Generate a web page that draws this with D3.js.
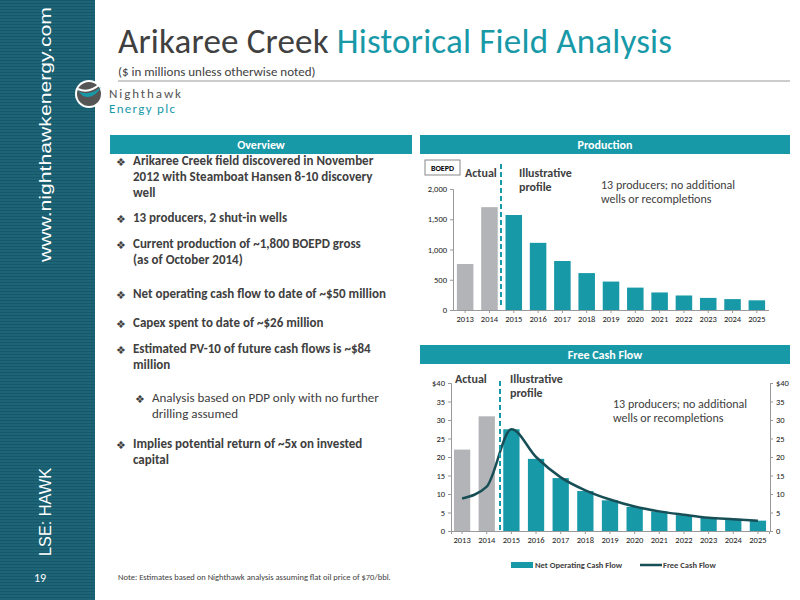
<!DOCTYPE html><html><head><meta charset="utf-8"><script src="https://d3js.org/d3.v7.min.js"></script>
<style>body{margin:0}svg{font-family:Calibri,Carlito,"Open Sans",sans-serif}</style></head><body>
<svg id="s" width="800" height="600"></svg>
<script>
const years=["2013","2014","2015","2016","2017","2018","2019","2020","2021","2022","2023","2024","2025"];
const production=[760,1700,1570,1110,810,610,470,370,290,240,200,180,160];
const nocf=[22,31,27.5,19.5,14.3,10.8,8.3,6.5,5.3,4.3,3.7,3.3,2.8];
const fcf=[8.8,12,27.5,20,14.5,11,8.5,6.6,5.3,4.4,3.6,3.2,2.8];
const prodTicks=[0,500,1000,1500,2000];
const fcfTicks=[0,5,10,15,20,25,30,35,40];
const teal="#1899a8",gray="#b3b4b7",dark="#404040",line="#184f56";
const svg=d3.select("#s");
svg.append("rect").attr("width",800).attr("height",600).attr("fill","#fff");
svg.append("rect").attr("width",95).attr("height",600).attr("fill","#1d6476");
for(let y=0;y<600;y+=3)svg.append("rect").attr("x",0).attr("y",y).attr("width",95).attr("height",1).attr("fill","#135060").attr("opacity",0.6);
svg.append("text").attr("transform","translate(51,262) rotate(-90)").attr("fill","#fff").attr("font-size",17).attr("font-family","Arial").attr("textLength",255).attr("lengthAdjust","spacingAndGlyphs").text("www.nighthawkenergy.com");
svg.append("text").attr("transform","translate(51,556) rotate(-90)").attr("fill","#fff").attr("font-size",17).attr("font-family","Arial").attr("textLength",88).attr("lengthAdjust","spacingAndGlyphs").text("LSE: HAWK");
svg.append("text").attr("x",40).attr("y",582).attr("fill","#fff").attr("font-size",12).attr("text-anchor","middle").text("19");
const t=svg.append("text").attr("x",118).attr("y",53).attr("font-size",35).attr("fill",dark).attr("textLength",554);
t.append("tspan").text("Arikaree Creek ");t.append("tspan").attr("fill",teal).text("Historical Field Analysis");
svg.append("text").attr("x",118).attr("y",76).attr("font-size",13).attr("fill",dark).text("($ in millions unless otherwise noted)");
svg.append("line").attr("x1",118).attr("x2",790).attr("y1",81).attr("y2",81).attr("stroke","#999");
svg.append("circle").attr("cx",89).attr("cy",94).attr("r",14).attr("fill","#fff");
svg.append("circle").attr("cx",89).attr("cy",94).attr("r",12).attr("fill","#555");
svg.append("path").attr("d","M78,91 Q89,97 101,87 Q94,100 83,96Z").attr("fill",teal);
svg.append("path").attr("d","M78,89 Q89,94 100,84").attr("stroke","#fff").attr("stroke-width",2).attr("fill","none");
svg.append("text").attr("x",109).attr("y",98).attr("font-size",13).attr("fill","#555").attr("textLength",72).text("Nighthawk");
svg.append("text").attr("x",109).attr("y",113).attr("font-size",13).attr("fill",teal).attr("textLength",66).text("Energy plc");
[[110,135,302,"Overview"],[420,135,370,"Production"],[420,345,370,"Free Cash Flow"]].forEach(([x,y,w,l])=>{
svg.append("rect").attr("x",x).attr("y",y).attr("width",w).attr("height",19).attr("fill",teal);
svg.append("text").attr("x",x+w/2).attr("y",y+14).attr("text-anchor","middle").attr("fill","#fff").attr("font-weight","bold").attr("font-size",12).text(l);});
const bullets=[[165,["Arikaree Creek field discovered in November","2012 with Steamboat Hansen 8-10 discovery","well"],0],[222,["13 producers, 2 shut-in wells"],0],[248,["Current production of ~1,800 BOEPD gross","(as of October 2014)"],0],[298,["Net operating cash flow to date of ~$50 million"],0],[327,["Capex spent to date of ~$26 million"],0],[353,["Estimated PV-10 of future cash flows is ~$84","million"],0],[402,["Analysis based on PDP only with no further","drilling assumed"],1],[448,["Implies potential return of ~5x on invested","capital"],0]];
bullets.forEach(([y,ls,sub])=>{const x=sub?135:116;
svg.append("text").attr("x",x).attr("y",y+1).attr("font-size",11).attr("fill",dark).text("❖");
ls.forEach((s,i)=>svg.append("text").attr("x",x+17).attr("y",y+i*16).attr("font-size",13).attr("font-weight",sub?"normal":"bold").attr("fill",dark).text(s));});
svg.append("text").attr("x",118).attr("y",580).attr("font-size",8.5).attr("fill",dark).text("Note:  Estimates based on Nighthawk analysis assuming flat oil price of $70/bbl.");
const x1=d3.scaleBand().domain(years).range([453,769]).paddingInner(0.32).paddingOuter(0.16);
const y1=d3.scaleLinear().domain([0,2000]).range([310,189]);
const g1=svg.append("g");
g1.selectAll("rect").data(production).join("rect").attr("x",(d,i)=>x1(years[i])).attr("y",d=>y1(d)).attr("width",x1.bandwidth()).attr("height",d=>310-y1(d)).attr("fill",(d,i)=>i<2?gray:teal);
const ax1=g1.append("g").attr("transform","translate(453,0)").call(d3.axisLeft(y1).tickValues(prodTicks).tickFormat(d3.format(",")).tickSize(3));
const bx1=g1.append("g").attr("transform","translate(0,310)").call(d3.axisBottom(x1).tickSize(3));
[ax1,bx1].forEach(a=>{a.selectAll("path,line").attr("stroke","#999");a.selectAll("text").attr("font-size",8.5).attr("fill","#222").attr("font-family","Calibri,Carlito,sans-serif");});
bx1.select(".domain").attr("d","M453,0.5H769");
svg.append("line").attr("x1",501).attr("x2",501).attr("y1",164).attr("y2",306).attr("stroke",teal).attr("stroke-width",2).attr("stroke-dasharray","5,3");
svg.append("rect").attr("x",425).attr("y",160).attr("width",35).attr("height",15).attr("fill","#fff").attr("stroke","#888");
svg.append("text").attr("x",442.5).attr("y",171).attr("text-anchor","middle").attr("font-size",8).attr("font-weight","bold").text("BOEPD");
function lbl(x,y,ls,o={}){ls.forEach((s,i)=>svg.append("text").attr("x",x).attr("y",y+i*14).attr("font-size",o.fs||12).attr("font-weight",o.b?"bold":"normal").attr("fill",dark).text(s));}
lbl(465,177,["Actual"],{b:1});lbl(519,177,["Illustrative","profile"],{b:1});
lbl(601,189,["13 producers; no additional","wells or recompletions"]);
const x2=d3.scaleBand().domain(years).range([451,769]).paddingInner(0.34).paddingOuter(0.12);
const y2=d3.scaleLinear().domain([0,40]).range([531,383]);
const g2=svg.append("g");
g2.selectAll("rect").data(nocf).join("rect").attr("x",(d,i)=>x2(years[i])).attr("y",d=>y2(d)).attr("width",x2.bandwidth()).attr("height",d=>531-y2(d)).attr("fill",(d,i)=>i<2?gray:teal);
g2.append("path").datum(fcf).attr("d",d3.line().x((d,i)=>x2(years[i])+x2.bandwidth()/2).y(d=>y2(d)).curve(d3.curveMonotoneX)).attr("fill","none").attr("stroke",line).attr("stroke-width",2.5);
const fmt=d=>d===40?"$40":d;
const ax2=g2.append("g").attr("transform","translate(451,0)").call(d3.axisLeft(y2).tickValues(fcfTicks).tickFormat(fmt).tickSize(3));
const ar2=g2.append("g").attr("transform","translate(770,0)").call(d3.axisRight(y2).tickValues(fcfTicks).tickFormat(fmt).tickSize(3));
const bx2=g2.append("g").attr("transform","translate(0,531)").call(d3.axisBottom(x2).tickSize(3));
[ax2,ar2,bx2].forEach(a=>{a.selectAll("path,line").attr("stroke","#999");a.selectAll("text").attr("font-size",8.5).attr("fill","#222").attr("font-family","Calibri,Carlito,sans-serif");});
svg.append("line").attr("x1",500).attr("x2",500).attr("y1",381).attr("y2",530).attr("stroke",teal).attr("stroke-width",2).attr("stroke-dasharray","5,3");
lbl(455,383,["Actual"],{b:1});lbl(510,383,["Illustrative","profile"],{b:1});
lbl(613,408,["13 producers; no additional","wells or recompletions"]);
svg.append("rect").attr("x",511).attr("y",562).attr("width",22).attr("height",6).attr("fill",teal);
svg.append("text").attr("x",535).attr("y",568).attr("font-size",8.5).attr("font-weight","bold").attr("fill",dark).text("Net Operating Cash Flow");
svg.append("line").attr("x1",640).attr("x2",662).attr("y1",565).attr("y2",565).attr("stroke",line).attr("stroke-width",2.5);
svg.append("text").attr("x",663).attr("y",568).attr("font-size",8.5).attr("font-weight","bold").attr("fill",dark).text("Free Cash Flow");
</script></body></html>
